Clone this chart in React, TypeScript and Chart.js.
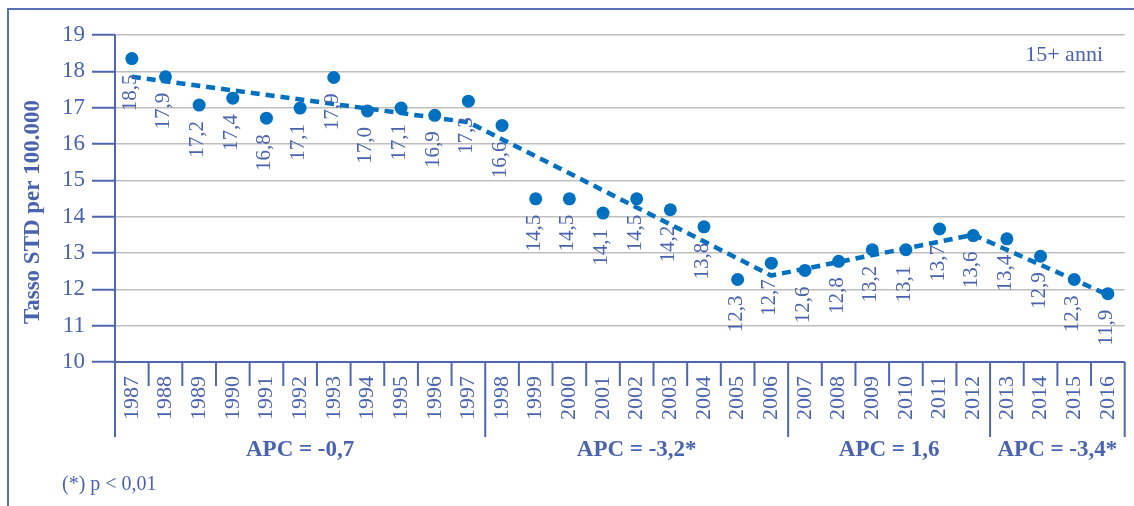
import React, { useEffect, useRef } from "react";
import { Chart, registerables } from "chart.js";

Chart.register(...registerables);

// ---- data ----
const years = [
  "1987", "1988", "1989", "1990", "1991", "1992", "1993", "1994", "1995", "1996",
  "1997", "1998", "1999", "2000", "2001", "2002", "2003", "2004", "2005", "2006",
  "2007", "2008", "2009", "2010", "2011", "2012", "2013", "2014", "2015", "2016",
];

const rates = [
  18.35, 17.85, 17.07, 17.26, 16.71, 16.99, 17.83, 16.91, 16.99, 16.79,
  17.18, 16.51, 14.49, 14.49, 14.1, 14.49, 14.19, 13.72, 12.27, 12.72,
  12.52, 12.77, 13.09, 13.09, 13.66, 13.48, 13.39, 12.91, 12.27, 11.88,
];

const rateLabels = [
  "18,5", "17,9", "17,2", "17,4", "16,8", "17,1", "17,9", "17,0", "17,1", "16,9",
  "17,3", "16,6", "14,5", "14,5", "14,1", "14,5", "14,2", "13,8", "12,3", "12,7",
  "12,6", "12,8", "13,2", "13,1", "13,7", "13,6", "13,4", "12,9", "12,3", "11,9",
];

// joinpoint trend: values only at the joinpoints
const trend = [
  17.85, null, null, null, null, null, null, null, null, null,
  16.6, null, null, null, null, null, null, null, null, 12.38,
  null, null, null, null, null, 13.5, null, null, null, 11.85,
];

const apcTexts = ["APC = -0,7", "APC = -3,2*", "APC = 1,6", "APC = -3,4*"];
const apcStarts = ["1987", "1998", "2007", "2013"];
const apcEnds = ["1997", "2006", "2012", "2016"];

const yMin = 10;
const yMax = 19;
const yTitle = "Tasso STD per 100.000";
const ageNote = "15+ anni";
const footNote = "(*) p < 0,01";

// ---- styles ----
const TEXT = "#4A63AE";
const AXIS = "#4F67B0";
const DOT = "#0070C0";
const GRID = "#BFBFBF";
const SERIF = '"Liberation Serif", "Times New Roman", serif';

const decorPlugin = {
  id: "decor",
  afterDatasetsDraw(chart: any) {
    const ctx = chart.ctx;
    const meta = chart.getDatasetMeta(1);
    ctx.save();
    ctx.fillStyle = TEXT;
    ctx.font = `21px ${SERIF}`;
    ctx.textAlign = "right";
    ctx.textBaseline = "alphabetic";
    meta.data.forEach((pt: any, i: number) => {
      ctx.save();
      ctx.translate(pt.x, pt.y + 16);
      ctx.rotate(-Math.PI / 2);
      ctx.fillText(rateLabels[i], 0, 4);
      ctx.restore();
    });
    ctx.restore();
  },
  afterDraw(chart: any) {
    const ctx = chart.ctx;
    const xs = chart.scales.x;
    const ys = chart.scales.y;
    const left = xs.left;
    const right = xs.right;
    const n = years.length;
    const w = (right - left) / n;
    const axisY = ys.getPixelForValue(yMin);
    const topY = ys.getPixelForValue(yMax);
    const edge = (i: number) => left + i * w;

    ctx.save();
    ctx.strokeStyle = AXIS;
    ctx.lineWidth = 2;
    // axis lines
    ctx.beginPath();
    ctx.moveTo(left, axisY);
    ctx.lineTo(right, axisY);
    ctx.stroke();

    const majorIdx = new Set<number>();
    apcStarts.forEach((s) => majorIdx.add(years.indexOf(s)));
    majorIdx.add(n);
    // y axis line goes down to the group separator
    ctx.beginPath();
    ctx.moveTo(left, topY);
    ctx.lineTo(left, axisY + 75);
    ctx.stroke();
    for (let i = 1; i <= n; i++) {
      const x = edge(i);
      ctx.beginPath();
      ctx.moveTo(x, axisY);
      ctx.lineTo(x, axisY + (majorIdx.has(i) ? 75 : 24));
      ctx.stroke();
    }

    // APC labels
    ctx.fillStyle = TEXT;
    ctx.font = `bold 23px ${SERIF}`;
    ctx.textAlign = "center";
    ctx.textBaseline = "alphabetic";
    apcTexts.forEach((t, k) => {
      const a = edge(years.indexOf(apcStarts[k]));
      const b = edge(years.indexOf(apcEnds[k]) + 1);
      ctx.fillText(t, (a + b) / 2, 456);
    });

    // footnote
    ctx.font = `20px ${SERIF}`;
    ctx.textAlign = "left";
    ctx.fillText(footNote, 62, 490);

    // age note
    ctx.font = `22px ${SERIF}`;
    ctx.textAlign = "right";
    ctx.fillText(ageNote, 1103, 61);

    // y title
    ctx.save();
    ctx.translate(33, 212);
    ctx.rotate(-Math.PI / 2);
    ctx.font = `bold 23px ${SERIF}`;
    ctx.textAlign = "center";
    ctx.textBaseline = "middle";
    ctx.fillText(yTitle, 0, 0);
    ctx.restore();

    // frame
    ctx.strokeStyle = "#5A72B8";
    ctx.lineWidth = 2;
    ctx.beginPath();
    ctx.moveTo(8, 506);
    ctx.lineTo(8, 9);
    ctx.lineTo(1134, 9);
    ctx.stroke();
    ctx.restore();
  },
};

export default function App() {
  const ref = useRef<HTMLCanvasElement | null>(null);

  useEffect(() => {
    if (!ref.current) return;
    const chart = new Chart(ref.current, {
      type: "line",
      data: {
        labels: years,
        datasets: [
          {
            label: "trend",
            data: trend as any,
            spanGaps: true,
            borderColor: DOT,
            borderWidth: 4.5,
            borderDash: [9, 6],
            pointRadius: 0,
            tension: 0,
            fill: false,
          },
          {
            label: "tasso",
            data: rates,
            showLine: false,
            pointRadius: 6.5,
            pointHoverRadius: 6.5,
            pointBackgroundColor: DOT,
            pointBorderWidth: 0,
            borderColor: DOT,
          },
        ],
      },
      options: {
        responsive: false,
        animation: false,
        events: [],
        layout: { padding: { left: 0, top: 35, right: 9.3, bottom: 0 } },
        plugins: {
          legend: { display: false },
          tooltip: { enabled: false },
          title: { display: false },
        },
        scales: {
          x: {
            type: "category",
            offset: true,
            grid: { display: false, drawTicks: false },
            border: { display: false },
            ticks: {
              autoSkip: false,
              maxRotation: 90,
              minRotation: 90,
              padding: 14,
              color: TEXT,
              font: { family: SERIF, size: 22 },
            },
            afterFit: (s: any) => {
              s.height = 144;
              s.paddingLeft = 0;
              s.paddingRight = 0;
            },
          },
          y: {
            min: yMin,
            max: yMax,
            ticks: {
              stepSize: 1,
              padding: 7,
              color: TEXT,
              font: { family: SERIF, size: 23 },
            },
            grid: {
              color: GRID,
              lineWidth: 1.5,
              tickColor: AXIS,
              tickLength: 23,
              tickWidth: 2,
            },
            border: { display: false },
            afterFit: (s: any) => {
              s.width = 115;
              s.paddingTop = 0;
              s.paddingBottom = 0;
            },
          },
        },
      },
      plugins: [decorPlugin],
    });
    return () => chart.destroy();
  }, []);

  return (
    <div
      style={{
        position: "fixed",
        left: 0,
        top: 0,
        width: 1134,
        height: 506,
        background: "#ffffff",
      }}
    >
      <canvas ref={ref} width={1134} height={506} style={{ width: 1134, height: 506 }} />
    </div>
  );
}
